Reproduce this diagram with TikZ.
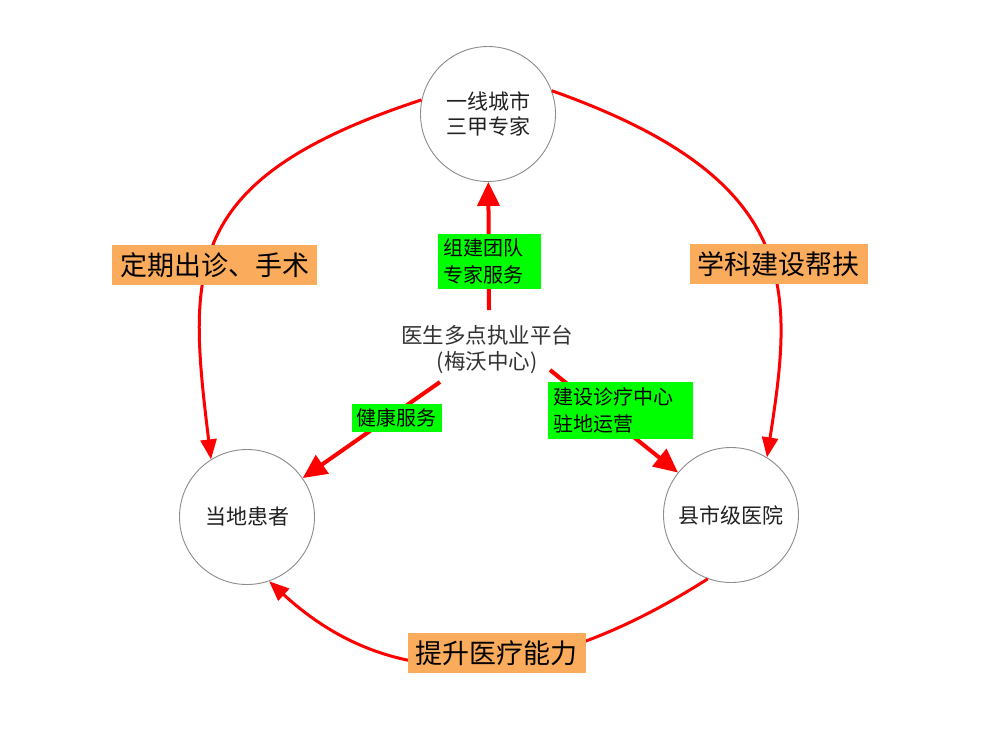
\documentclass[tikz,border=0pt]{standalone}
\usepackage{fontspec}
\newfontfamily\cjk{Noto Sans CJK SC}
\usetikzlibrary{arrows.meta}
\definecolor{arcred}{RGB}{255,0,0}
\definecolor{lblgreen}{RGB}{0,255,0}
\definecolor{lblorange}{RGB}{250,171,92}
\definecolor{ringgray}{RGB}{140,140,140}
\begin{document}
\begin{tikzpicture}[x=1pt,y=-1pt,
  party/.style={circle,draw=ringgray,line width=0.9pt,minimum size=135pt,inner sep=0pt,align=center,font=\cjk\fontsize{21}{25}\selectfont,text=black!87},
  loopline/.style={draw=arcred,line width=3pt,-{Triangle[length=20pt,width=16pt]}},
  pushline/.style={draw=arcred,line width=4pt,-{Triangle[length=24pt,width=22pt]}},
  orangelbl/.style={fill=lblorange,font=\cjk\fontsize{27}{27}\selectfont,inner xsep=8pt,inner ysep=0pt,minimum height=40pt},
  greenlbl/.style={fill=lblgreen,font=\cjk\fontsize{20}{27.5}\selectfont,inner xsep=5pt,inner ysep=5pt}]
\useasboundingbox[fill=white] (0,0) rectangle (992,737);

\node[party] (top) at (488,114) {一线城市\\三甲专家};
\node[party] (left) at (247,517) {当地患者};
\node[party] (right) at (731,515) {县市级医院};
\node[align=center,font=\cjk\fontsize{21.5}{26}\selectfont,text=black!80] (plat) at (487,350) {医生多点执业平台\\(梅沃中心)};

\coordinate (s1) at (489,310);
\coordinate (s2) at (440,382);
\coordinate (s3) at (550,370);

\draw[loopline] (top.168) .. controls (180,179) and (188,270) .. (left.122);
\draw[loopline] (top.20) .. controls (804,180) and (793,290) .. (right.58);
\draw[loopline] (right.250) .. controls (538,687) and (394,696) .. (left.289);

\draw[pushline] (s1) -- (top);
\draw[pushline] (s2) -- (left);
\draw[pushline] (s3) -- (right);

\node[orangelbl] (l1) at (214.5,265) {定期出诊、手术};
\node[orangelbl] (l2) at (778.5,264) {学科建设帮扶};
\node[orangelbl] (l3) at (496.5,653) {提升医疗能力};

\node[greenlbl,text width=93pt,align=left] (g1) at (489.5,261.5) {组建团队\\专家服务};
\node[greenlbl] (g2) at (396.5,418) {健康服务};
\node[greenlbl,text width=135pt,align=left] (g3) at (620.5,410.5) {建设诊疗中心\\驻地运营};
\end{tikzpicture}
\end{document}
